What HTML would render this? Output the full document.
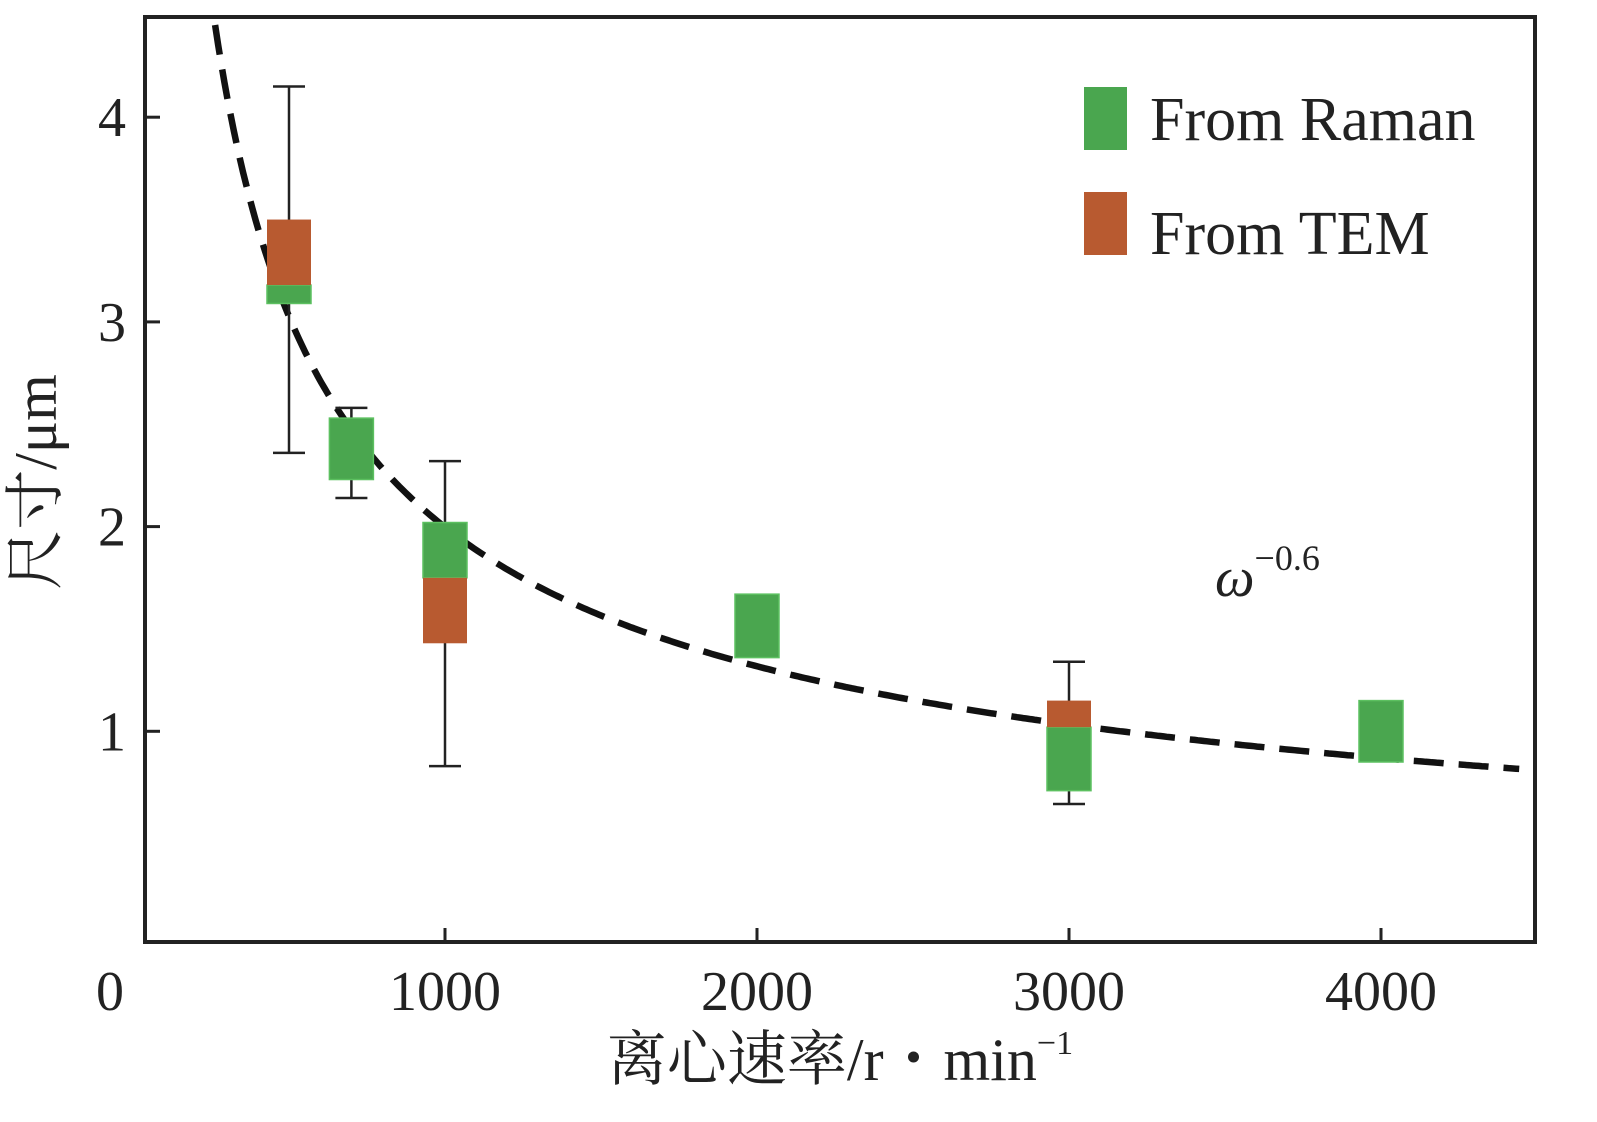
<!DOCTYPE html>
<html><head><meta charset="utf-8"><style>
html,body{margin:0;padding:0;background:#fff}
svg{display:block}
text{font-family:"Liberation Serif","Noto Serif CJK SC",serif;fill:#222}
</style></head><body>
<svg id="chart" width="1597" height="1122" viewBox="0 0 1597 1122">
<rect x="145" y="17" width="1390" height="925" fill="none" stroke="#222" stroke-width="4"/>
<g id="ticks"></g>
<g id="curve"></g>
<g id="boxes"></g>
<text x="110" y="1010" font-size="56" text-anchor="middle">0</text>
<text transform="translate(56,482) rotate(-90)" font-size="60" text-anchor="middle">尺寸/μm</text>
<text x="840" y="1080" font-size="60" text-anchor="middle">离心速率/r・min<tspan font-size="34" dy="-26">−1</tspan></text>
<text x="1215" y="596" font-size="56" font-style="italic">ω<tspan font-size="36" font-style="normal" dy="-26">−0.6</tspan></text>
<g>
<rect x="1084" y="87" width="43" height="63" fill="#4aa64f"/>
<text x="1150" y="140" font-size="62">From Raman</text>
<rect x="1084" y="192" width="43" height="63" fill="#b85a30"/>
<text x="1150" y="254" font-size="62">From TEM</text>
</g>
</svg>
<script>
const xTicks=[1000,2000,3000,4000];
const yTicks=[1,2,3,4];
const speeds=[500,700,1000,2000,3000,4000];
const ramanLow=[3.09,2.23,1.75,1.36,0.71,0.85];
const ramanHigh=[3.18,2.53,2.02,1.67,1.02,1.15];
const temLow=[3.18,null,1.43,null,1.02,null];
const temHigh=[3.5,null,1.75,null,1.15,null];
const whiskLow=[2.36,2.14,0.83,null,0.645,null];
const whiskHigh=[4.15,2.58,2.32,null,1.34,null];
const fitCoef=[126];
const fitExp=[-0.6];
const X=v=>133+v*0.312;
const Y=v=>936-v*204.7;
const NS="http://www.w3.org/2000/svg";
function mk(tag,attrs,parent){const e=document.createElementNS(NS,tag);for(const k in attrs)e.setAttribute(k,attrs[k]);parent.appendChild(e);return e;}
const tg=document.getElementById('ticks');
xTicks.forEach(t=>{
 const l=mk('line',{x1:X(t),x2:X(t),y1:942,y2:928,stroke:'#222','stroke-width':3},tg);
 
 
 const tx=mk('text',{x:X(t),y:1010,'font-size':56,'text-anchor':'middle'},tg);tx.textContent=t;
 
 
});
yTicks.forEach(t=>{
 const l=mk('line',{x1:145,x2:160,y1:Y(t),y2:Y(t),stroke:'#222','stroke-width':3},tg);
 
 
 const tx=mk('text',{x:112,y:Y(t)+19,'font-size':56,'text-anchor':'middle'},tg);tx.textContent=t;
 
 
});
let pts=[];
for(let v=263;v<=4450;v+=10){const y=fitCoef[0]*Math.pow(v,fitExp[0]);pts.push(X(v).toFixed(1)+','+Y(y).toFixed(1));}
const cp=mk('polyline',{points:pts.join(' '),fill:'none',stroke:'#111','stroke-width':6.5,'stroke-dasharray':'30 15'},document.getElementById('curve'));


const bg=document.getElementById('boxes');
speeds.forEach((s,i)=>{
 const cx=X(s),w=44;
 if(whiskLow[i]!=null){
  const wl=mk('line',{x1:cx,x2:cx,y1:Y(whiskHigh[i]),y2:Y(whiskLow[i]),stroke:'#222','stroke-width':2.5},bg);
  
  
  [whiskHigh[i],whiskLow[i]].forEach(v=>{const c=mk('line',{x1:cx-16,x2:cx+16,y1:Y(v),y2:Y(v),stroke:'#222','stroke-width':2.5},bg);
   
   });
 }
 const r=mk('rect',{x:cx-w/2,y:Y(ramanHigh[i]),width:w,height:Y(ramanLow[i])-Y(ramanHigh[i]),fill:'#4aa64f',stroke:'#5cc060','stroke-width':1.5},bg);
 
 
 if(temLow[i]!=null){
  const t=mk('rect',{x:cx-w/2,y:Y(temHigh[i]),width:w,height:Y(temLow[i])-Y(temHigh[i]),fill:'#b85a30'},bg);
  
  
 }
});
</script>
</body></html>
